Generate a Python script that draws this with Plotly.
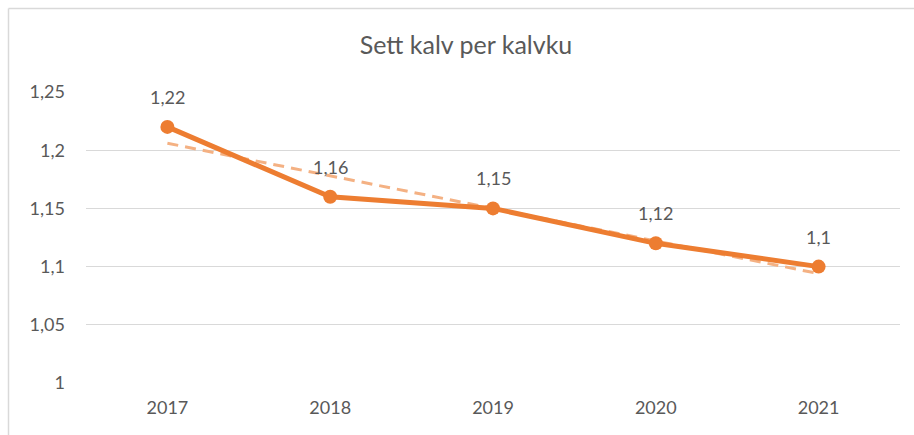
import plotly.graph_objects as go
import numpy as np

years = ["2017", "2018", "2019", "2020", "2021"]
values = [1.22, 1.16, 1.15, 1.12, 1.10]
labels = ["1,22", "1,16", "1,15", "1,12", "1,1"]
y_ticks = [1.0, 1.05, 1.1, 1.15, 1.2, 1.25]
y_tick_labels = ["1", "1,05", "1,1", "1,15", "1,2", "1,25"]
title_text = "Sett kalv per kalvku"

# linear trendline (Excel-style)
xi = np.arange(len(values))
slope, intercept = np.polyfit(xi, values, 1)
trend = [intercept + slope * i for i in xi]

W, H = 914, 435
ml, mr, mt, mb = 86, 14, 92, 52
pw, ph = W - ml - mr, H - mt - mb

FONT = "Lato"
TXT = "#595959"
ORANGE = "#ED7D31"

fig = go.Figure()
fig.add_trace(go.Scatter(
    x=years, y=trend, mode="lines",
    line=dict(color="#F4B183", width=3, dash="11px,7px"),
    hoverinfo="skip", showlegend=False,
))
fig.add_trace(go.Scatter(
    x=years, y=values, mode="lines+markers",
    line=dict(color=ORANGE, width=5),
    marker=dict(color=ORANGE, size=14),
    showlegend=False,
))

for i, (v, lab) in enumerate(zip(values, labels)):
    fig.add_annotation(x=i, y=v, text=lab, showarrow=False, yshift=30,
                       font=dict(family=FONT, size=18, color=TXT))

def px_to_paper_x(px):
    return (px - ml) / pw

def px_to_paper_y(py):
    return (H - mb - py) / ph

# chart-area border (top and left visible)
border = "#D9D9D9"
fig.add_shape(type="line", xref="paper", yref="paper",
              x0=px_to_paper_x(8.5), x1=px_to_paper_x(W + 5),
              y0=px_to_paper_y(8.5), y1=px_to_paper_y(8.5),
              line=dict(color=border, width=1.5))
fig.add_shape(type="line", xref="paper", yref="paper",
              x0=px_to_paper_x(8.5), x1=px_to_paper_x(8.5),
              y0=px_to_paper_y(8.5), y1=px_to_paper_y(H + 5),
              line=dict(color=border, width=1.5))

fig.update_layout(
    width=W, height=H,
    margin=dict(l=ml, r=mr, t=mt, b=mb),
    paper_bgcolor="white", plot_bgcolor="white",
    title=dict(text=title_text, x=466 / W, xanchor="center",
               y=1 - 45 / H, yanchor="middle", xref="container", yref="container",
               font=dict(family=FONT, size=25, color=TXT)),
    xaxis=dict(type="category", range=[-0.5, 4.5], showgrid=False,
               showline=False, zeroline=False, ticks="", ticklabelstandoff=12,
               tickfont=dict(family=FONT, size=18, color=TXT)),
    yaxis=dict(range=[1.0, 1.25], tickvals=y_ticks, ticktext=y_tick_labels,
               showgrid=True, gridcolor="#D9D9D9", gridwidth=1,
               zeroline=False, showline=False, ticks="", ticklabelstandoff=20,
               tickfont=dict(family=FONT, size=18, color=TXT)),
)

fig.write_html("out.html", config={"displayModeBar": False},
               post_script="document.body.style.margin='0';")
